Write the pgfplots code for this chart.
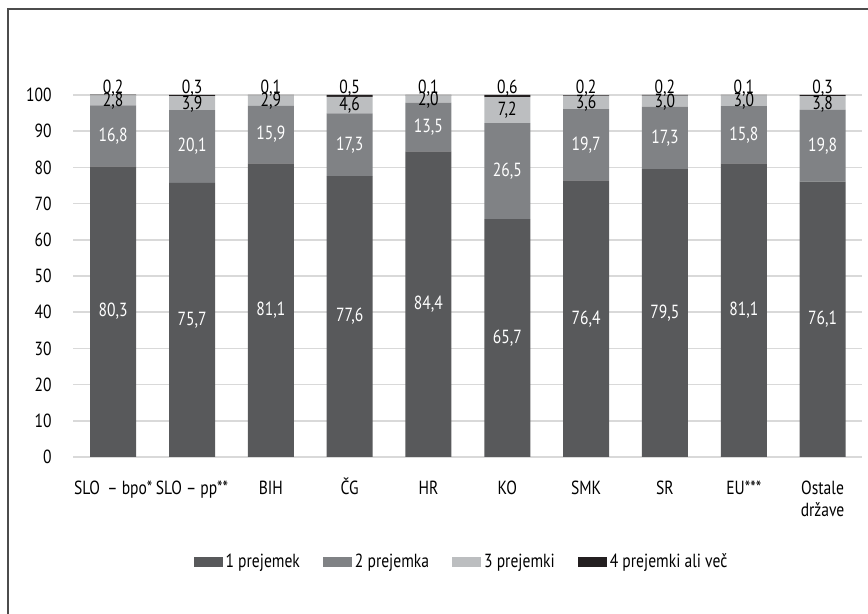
\documentclass[border=0pt]{standalone}
\usepackage{pgfplots}
\usepackage{pgfplotstable}
\pgfplotsset{compat=1.18}
\usepackage{fontspec}
\setmainfont{PT Sans}[FakeStretch=0.82]
\definecolor{cA}{HTML}{58595B}
\definecolor{cB}{HTML}{808285}
\definecolor{cC}{HTML}{BCBEC0}
\definecolor{cD}{HTML}{231F20}
\definecolor{gridc}{HTML}{D9D9D9}

\pgfplotstableread{
x s1 s2 s3 s4
0 80.3 16.8 2.8 0.2
1 75.7 20.1 3.9 0.3
2 81.1 15.9 2.9 0.1
3 77.6 17.3 4.6 0.5
4 84.4 13.5 2.0 0.1
5 65.7 26.5 7.2 0.6
6 76.4 19.7 3.6 0.2
7 79.5 17.3 3.0 0.2
8 81.1 15.8 3.0 0.1
9 76.1 19.8 3.8 0.3
}\data

\pgfplotstableread{
x y label
0 40.15 80,3
1 37.85 75,7
2 40.55 81,1
3 38.80 77,6
4 42.20 84,4
5 32.85 65,7
6 38.20 76,4
7 39.75 79,5
8 40.55 81,1
9 38.05 76,1
}\labA
\pgfplotstableread{
x y label
0 88.70 16,8
1 85.75 20,1
2 89.05 15,9
3 86.25 17,3
4 91.15 13,5
5 78.95 26,5
6 86.25 19,7
7 88.15 17,3
8 89.00 15,8
9 86.00 19,8
}\labB
\pgfplotstableread{
x y label
0 98.3 2,8
1 97.6 3,9
2 98.3 2,9
3 97.2 4,6
4 98.7 2,0
5 95.8 7,2
6 97.7 3,6
7 98.1 3,0
8 98.2 3,0
9 97.6 3,8
}\labC
\pgfplotstableread{
x y label
0 101.9 0,2
1 101.9 0,3
2 101.9 0,1
3 101.9 0,5
4 101.9 0,1
5 101.9 0,6
6 101.9 0,2
7 101.9 0,2
8 101.9 0,1
9 101.9 0,3
}\labD

\pgfplotsset{
  common/.style={
    at={(36.5pt,78.5pt)}, anchor=south west,
    scale only axis, width=394.5pt, height=181pt,
    xmin=-0.51, xmax=9.5, ymin=0, ymax=100,
  },
}
\newcommand\vp{\vphantom{Č}}

\begin{document}
\begin{tikzpicture}[font=\fontsize{9.5}{11}\selectfont]
\path[use as bounding box] (0,0) rectangle (434pt,307pt);
\draw[color=black!70, line width=1pt] (4pt,0) -- (4pt,302.5pt) -- (434pt,302.5pt);
\begin{axis}[
  common,
  ybar stacked, bar width=23pt,
  ytick={0,10,...,100},
  xtick={0,...,9},
  xticklabels={{\vp SLO \,– bpo*},{\vp SLO – pp**},\vp BIH,\vp ČG,\vp HR,\vp KO,\vp SMK,\vp SR,\vp EU***,{\vp Ostale\\države}},
  xticklabel style={align=center, anchor=north, inner sep=0pt, yshift=-10.5pt},
  yticklabel style={anchor=east, inner sep=0pt, xshift=-10.5pt},
  /pgf/number format/assume math mode=true,
  axis line style={draw=none},
  major tick length=0pt,
  ymajorgrids, grid style={gridc, line width=0.75pt},
  legend style={at={(axis description cs:0.493,-0.29)}, anchor=center, draw=none, fill=none,
    legend columns=4,
    /tikz/every even column/.append style={column sep=10pt},
    nodes={inner sep=1.5pt}},
  legend image code/.code={\fill[#1] (0pt,-2.6pt) rectangle (14.5pt,2.6pt);},
]
\addplot[fill=cA, draw=none] table[x=x, y=s1]{\data};
\addplot[fill=cB, draw=none] table[x=x, y=s2]{\data};
\addplot[fill=cC, draw=none] table[x=x, y=s3]{\data};
\addplot[fill=cD, draw=none] table[x=x, y=s4]{\data};
\legend{1 prejemek, 2 prejemka, 3 prejemki, 4 prejemki ali več}
\end{axis}
\begin{axis}[common, hide axis, clip=false]
\addplot[only marks, mark=none, nodes near coords, point meta=explicit symbolic,
  nodes near coords style={white, anchor=center, inner sep=0pt}]
  table[x=x, y=y, meta=label]{\labA};
\addplot[only marks, mark=none, nodes near coords, point meta=explicit symbolic,
  nodes near coords style={white, anchor=center, inner sep=0pt}]
  table[x=x, y=y, meta=label]{\labB};
\addplot[only marks, mark=none, nodes near coords, point meta=explicit symbolic,
  nodes near coords style={black, anchor=center, inner sep=0pt}]
  table[x=x, y=y, meta=label]{\labC};
\addplot[only marks, mark=none, nodes near coords, point meta=explicit symbolic,
  nodes near coords style={black, anchor=center, inner sep=0pt}]
  table[x=x, y=y, meta=label]{\labD};
\end{axis}
\end{tikzpicture}
\end{document}
